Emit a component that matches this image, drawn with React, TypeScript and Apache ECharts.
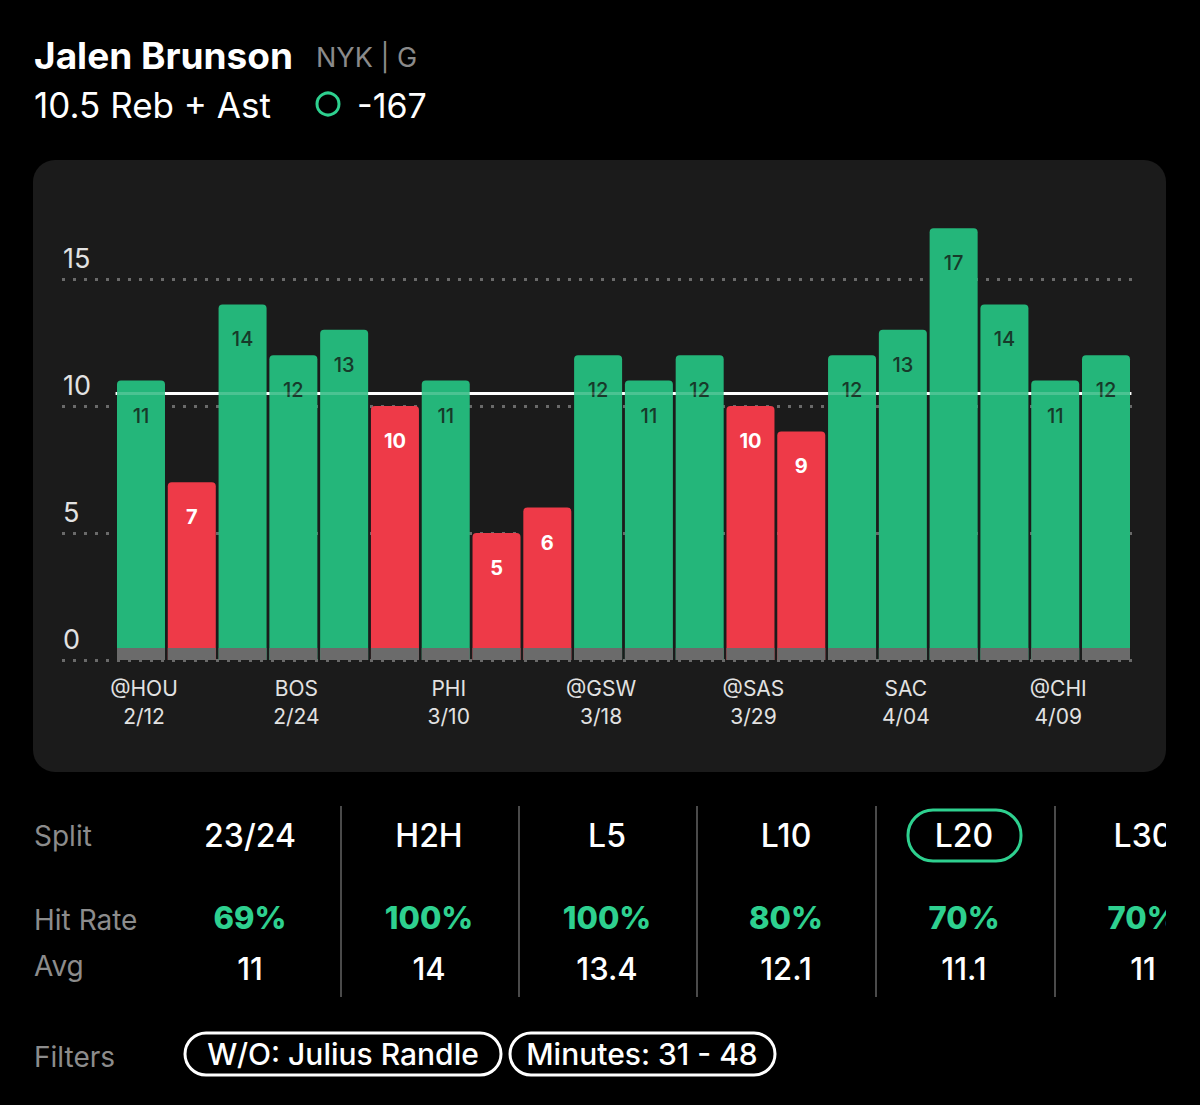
import React, { useEffect, useRef } from "react";
import * as echarts from "echarts";

// ---- data ----
const opponents = ["@HOU", "", "", "BOS", "", "", "PHI", "", "", "@GSW", "", "", "@SAS", "", "", "SAC", "", "", "@CHI", ""];
const dates = ["2/12", "", "", "2/24", "", "", "3/10", "", "", "3/18", "", "", "3/29", "", "", "4/04", "", "", "4/09", ""];
const values = [11, 7, 14, 12, 13, 10, 11, 5, 6, 12, 11, 12, 10, 9, 12, 13, 17, 14, 11, 12];
const line = 10.5;
const yTicks = [0, 5, 10, 15];

const splits = ["23/24", "H2H", "L5", "L10", "L20", "L30"];
const hitRates = ["69%", "100%", "100%", "80%", "70%", "70%"];
const avgs = ["11", "14", "13.4", "12.1", "11.1", "11"];
const filters = ["W/O: Julius Randle", "Minutes: 31 - 48"];

const categories = opponents.map((o, i) => (o ? `${o}\n${dates[i]}` : `G${i + 1}`));

const GREEN = "#24b67a";
const RED = "#ee3a48";
const ACCENT = "#2ed08f";
const FONT = "Inter";

export default function App() {
  const ref = useRef<HTMLDivElement>(null);
  useEffect(() => {
    if (!ref.current) return;
    const chart = echarts.init(ref.current, null, { renderer: "svg" });

    const barData = values.map((v) => {
      const hit = v > line;
      return {
        value: v,
        itemStyle: { color: hit ? GREEN : RED },
        label: {
          color: hit ? "#173a2a" : "#ffffff",
          fontWeight: hit ? 500 : "bold",
        },
      };
    });

    const colCenters = [250, 429, 607, 786, 964, 1143];
    const seps = [341, 519, 697, 876, 1055];

    const graphic: any[] = [
      {
        type: "rect",
        z: -10,
        shape: { x: 33, y: 160, width: 1133, height: 612, r: 22 },
        style: { fill: "#1b1b1b" },
      },
      {
        type: "text", x: 34, y: 55,
        style: { text: "Jalen Brunson", fill: "#fff", font: `bold 37px ${FONT}`, textVerticalAlign: "middle" },
      },
      {
        type: "text", x: 316, y: 57,
        style: { text: "NYK | G", fill: "#8a8a8a", font: `27px ${FONT}`, textVerticalAlign: "middle" },
      },
      {
        type: "text", x: 34, y: 105,
        style: { text: "10.5 Reb + Ast", fill: "#fff", font: `35px ${FONT}`, textVerticalAlign: "middle" },
      },
      {
        type: "circle", shape: { cx: 328, cy: 104, r: 11 },
        style: { fill: "none", stroke: ACCENT, lineWidth: 3 },
      },
      {
        type: "text", x: 357, y: 105,
        style: { text: "-167", fill: "#fff", font: `34px ${FONT}`, textVerticalAlign: "middle" },
      },
      // table labels
      ...[["Split", 836], ["Hit Rate", 920], ["Avg", 966], ["Filters", 1057]].map(([t, y]) => ({
        type: "text", x: 34, y: y as number,
        style: { text: t as string, fill: "#8c8c8c", font: `28px ${FONT}`, textVerticalAlign: "middle" },
      })),
      ...seps.map((x) => ({
        type: "line", shape: { x1: x, y1: 806, x2: x, y2: 997 },
        style: { stroke: "#4a4a4a", lineWidth: 2 },
      })),
      {
        type: "rect", shape: { x: 908, y: 810, width: 113, height: 51, r: 25 },
        style: { fill: "none", stroke: ACCENT, lineWidth: 3 },
      },
      ...splits.map((s, i) => ({
        type: "text", x: colCenters[i], y: 835,
        style: { text: s, fill: "#fff", font: `500 32px ${FONT}`, textAlign: "center", textVerticalAlign: "middle" },
      })),
      ...hitRates.map((s, i) => ({
        type: "text", x: colCenters[i], y: 917,
        style: { text: s, fill: ACCENT, font: `800 31px ${FONT}`, textAlign: "center", textVerticalAlign: "middle" },
      })),
      ...avgs.map((s, i) => ({
        type: "text", x: colCenters[i], y: 968,
        style: { text: s, fill: "#fff", font: `500 31px ${FONT}`, textAlign: "center", textVerticalAlign: "middle" },
      })),
      {
        type: "rect", z: 50, shape: { x: 1166, y: 800, width: 40, height: 200 },
        style: { fill: "#000" },
      },
      // filter pills
      {
        type: "rect", shape: { x: 185, y: 1033, width: 316, height: 42, r: 21 },
        style: { fill: "none", stroke: "#fff", lineWidth: 3 },
      },
      {
        type: "text", x: 343, y: 1054,
        style: { text: filters[0], fill: "#fff", font: `500 30px ${FONT}`, textAlign: "center", textVerticalAlign: "middle" },
      },
      {
        type: "rect", shape: { x: 510, y: 1033, width: 265, height: 42, r: 21 },
        style: { fill: "none", stroke: "#fff", lineWidth: 3 },
      },
      {
        type: "text", x: 642, y: 1054,
        style: { text: filters[1], fill: "#fff", font: `500 30px ${FONT}`, textAlign: "center", textVerticalAlign: "middle" },
      },
    ];

    const option: any = {
      animation: false,
      backgroundColor: "#000",
      textStyle: { fontFamily: FONT },
      grid: [
        { left: 62, right: 65, top: 152, bottom: 445 },
        { left: 115.6, right: 68.6, top: 152, bottom: 445 },
      ],
      xAxis: [
        { type: "value", gridIndex: 0, min: 0, max: 1, show: false },
        {
          type: "category",
          gridIndex: 1,
          data: categories,
          axisLine: { show: false },
          axisTick: { show: false },
          axisLabel: {
            interval: 2,
            color: "#e2e2e2",
            fontSize: 21,
            lineHeight: 28,
            margin: 14,
            padding: [0, 0, 0, 6],
            fontFamily: FONT,
          },
        },
      ],
      yAxis: [
        {
          type: "value",
          gridIndex: 0,
          min: 0,
          max: 20,
          interval: 5,
          axisLine: { show: false },
          axisTick: { show: false },
          splitLine: {
            show: true,
            lineStyle: {
              color: ["#6a6a6a", "#6a6a6a", "#6a6a6a", "#6a6a6a", "rgba(0,0,0,0)"],
              width: 3,
              type: [3, 8],
            },
          },
          axisLabel: {
            inside: true,
            margin: 1,
            align: "left",
            verticalAlign: "bottom",
            padding: [0, 0, 7, 0],
            color: "#e2e2e2",
            fontSize: 27,
            fontFamily: FONT,
            formatter: (v: number) => (yTicks.includes(v) ? String(v) : ""),
          },
        },
        { type: "value", gridIndex: 1, min: 0, max: 20, interval: 5, show: false },
      ],
      series: [
        {
          type: "bar",
          name: "Reb + Ast",
          xAxisIndex: 1,
          yAxisIndex: 1,
          z: 2,
          barWidth: 48,
          data: barData,
          itemStyle: { borderRadius: [4, 4, 0, 0] },
          label: {
            show: true,
            position: "insideTop",
            distance: 25,
            fontSize: 20,
            fontFamily: FONT,
          },
          markLine: {
            z: 1,
            silent: true,
            symbol: "none",
            label: { show: false },
            lineStyle: { color: "#ffffff", width: 3, type: "solid" },
            data: [{ yAxis: line }],
          },
        },
        {
          type: "bar",
          name: "base",
          xAxisIndex: 1,
          yAxisIndex: 1,
          z: 3,
          barWidth: 48,
          barGap: "-100%",
          silent: true,
          data: values.map(() => 0.47),
          itemStyle: { color: "#6b6b6b" },
          markLine: {
            z: 5,
            silent: true,
            symbol: "none",
            label: { show: false },
            lineStyle: { color: "rgba(255,255,255,0.18)", width: 3, type: "solid" },
            data: [{ yAxis: line }],
          },
        },
      ],
      graphic: { elements: graphic },
    };

    chart.setOption(option);
    return () => chart.dispose();
  }, []);

  return (
    <div
      ref={ref}
      style={{ position: "absolute", left: 0, top: 0, width: 1200, height: 1105, background: "#000" }}
    />
  );
}
